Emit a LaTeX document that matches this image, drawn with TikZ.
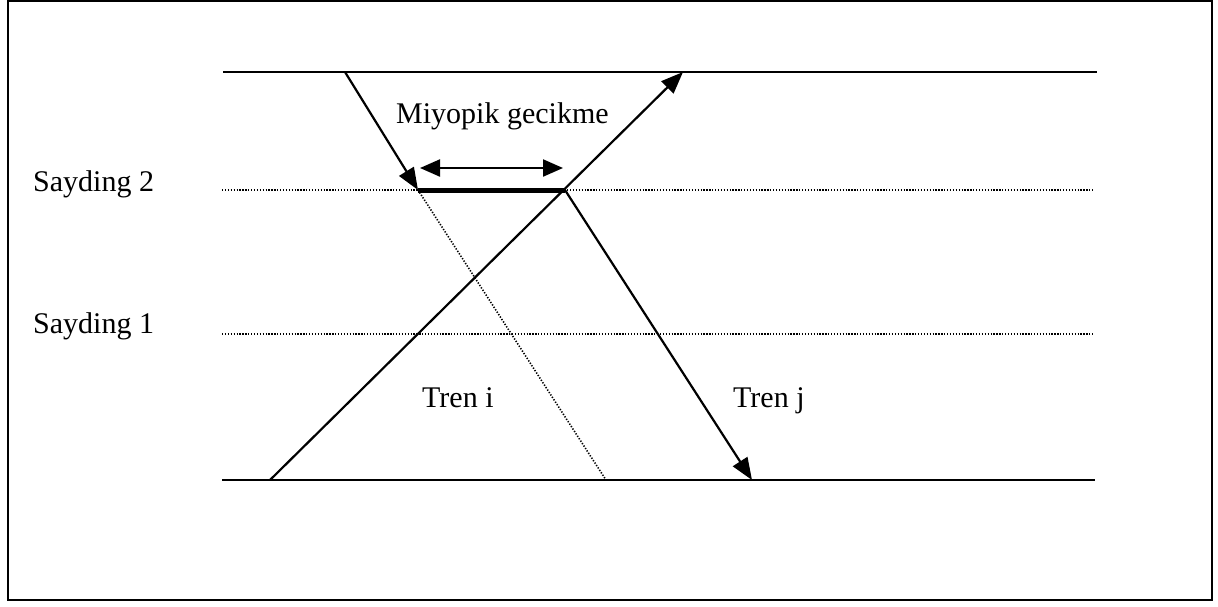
\documentclass[tikz,border=0pt]{standalone}
\usepackage{fontspec}
\setmainfont{Liberation Serif}
\usetikzlibrary{arrows.meta}
\begin{document}
\begin{tikzpicture}[x=1pt,y=-1pt,
  track/.style={line width=2pt},
  siding/.style={line width=1.6pt, dash pattern=on 1.3pt off 1.6pt},
  train/.style={line width=2.2pt},
  tip/.style={-{Triangle[length=22pt,width=17pt]}},
  lbl/.style={font=\fontsize{30}{34}\selectfont, inner sep=0pt}]
  \useasboundingbox (0,0) rectangle (1218,606);
  % outer frame
  \draw[line width=2pt] (8,1) rectangle (1212,600);

  % station tracks and sidings
  \coordinate (t0) at (223,72);   \coordinate (t1) at (1097,72);
  \coordinate (s20) at (222,190); \coordinate (s21) at (1093,190);
  \coordinate (s10) at (222,334); \coordinate (s11) at (1093,334);
  \coordinate (b0) at (222,480);  \coordinate (b1) at (1095,480);
  \draw[track] (t0) -- (t1);
  \draw[track] (b0) -- (b1);
  \draw[siding] (s20) -- (s21);
  \draw[siding] (s10) -- (s11);

  % train paths
  \coordinate (jtop) at (345,72);
  \coordinate (jwait) at (418,190);
  \coordinate (jgo) at (565,190);
  \coordinate (jend) at (752,480);
  \coordinate (jplan) at (606,480);
  \coordinate (istart) at (270,480);
  \coordinate (iend) at (683,72);

  \draw[train, tip] (jtop) -- (jwait);
  \draw[siding] (jwait) -- (jplan);
  \draw[line width=5pt] (jwait) -- (jgo);
  \draw[train, tip] (jgo) -- (jend);
  \draw[train, tip] (istart) -- (iend);

  % delay span
  \coordinate (d0) at (420,168);
  \coordinate (d1) at (563,168);
  \draw[line width=2.2pt, {Triangle[length=20pt,width=17pt]}-{Triangle[length=20pt,width=17pt]}] (d0) -- (d1);

  % labels
  \node[lbl, anchor=base west] (lmiyo) at (396,123) {Miyopik gecikme};
  \node[lbl, anchor=base west] (ls2) at (33,191) {Sayding 2};
  \node[lbl, anchor=base west] (ls1) at (33,333) {Sayding 1};
  \node[lbl, anchor=base west] (lti) at (422,407) {Tren i};
  \node[lbl, anchor=base west] (ltj) at (733,407) {Tren j};
\end{tikzpicture}
\end{document}
